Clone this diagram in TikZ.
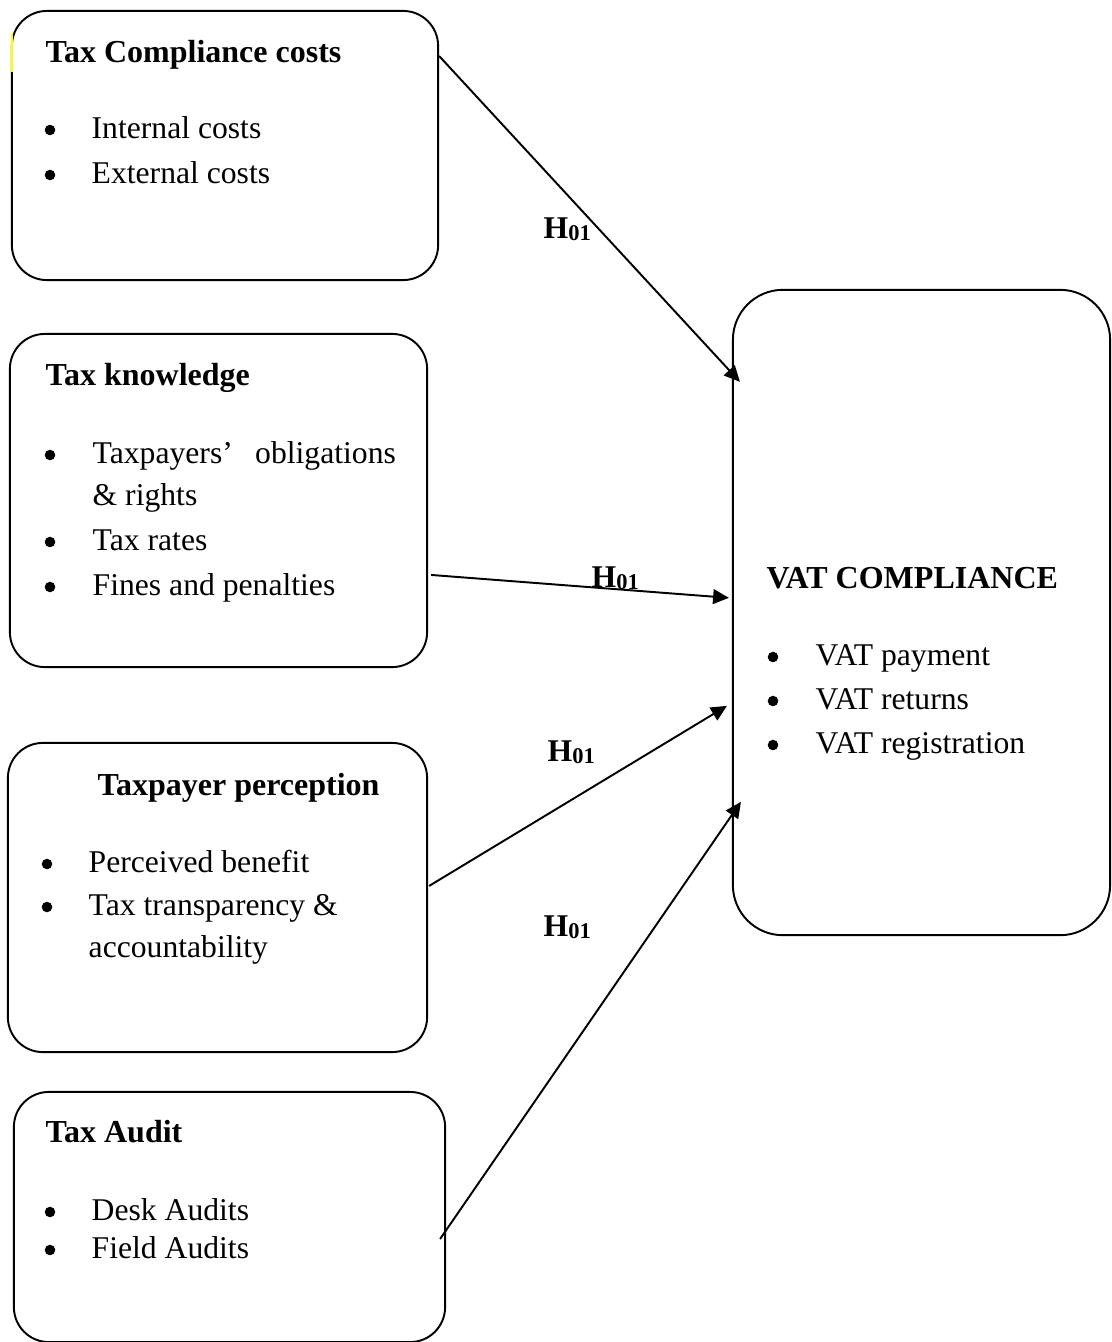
\documentclass[tikz,border=0pt]{standalone}
\usepackage{fontspec}
\setmainfont{Liberation Serif}
\usetikzlibrary{calc,arrows.meta,positioning}
\definecolor{hlyellow}{rgb}{1.0, 1.0, 0.0}

\begin{document}
\begin{tikzpicture}[x=0.01cm, y=-0.01cm, >={Triangle[length=4.5pt,width=4.2pt]}, font=\fontsize{9}{11}\selectfont]
        \tikzstyle{box}=[draw, line width=0.55pt, rounded corners=0.35cm, inner sep=0pt]
        \tikzstyle{txt}=[anchor=base west, inner sep=0pt]
        \tikzstyle{title}=[txt, font=\fontsize{9.1}{11}\selectfont\bfseries]
        \tikzstyle{dot}=[circle, fill, inner sep=0pt, minimum size=3pt]
        \tikzstyle{link}=[->, line width=0.55pt]
        \tikzstyle{hyp}=[anchor=base west, inner sep=0pt, font=\fontsize{9}{11}\selectfont\bfseries]
        \newcommand{\hnull}{H\raisebox{-0.6pt}{\fontsize{6.4}{7}\selectfont 01}}

        \useasboundingbox (0,0) rectangle (1111,1342);

        % Boxes
        \node (costs)[box, minimum width=4.26cm, minimum height=2.69cm] at (225,145.5) {};
        \node (knowledge)[box, minimum width=4.17cm, minimum height=3.33cm] at (218.5,500.5) {};
        \node (perception)[box, minimum width=4.19cm, minimum height=3.09cm] at (217.5,897.5) {};
        \node (audit)[box, minimum width=4.31cm, minimum height=2.50cm] at (229.5,1217) {};
        \node (vat)[box, rounded corners=0.5cm, minimum width=3.77cm, minimum height=6.45cm] at (921.5,612.5) {};

        % Highlight mark
        \fill[hlyellow] (11,33) rectangle (13,72);

        % Tax compliance costs
        \node (costs_t)[title] at (45,62) {Tax Compliance costs};
        \node (costs_b1)[dot] at (50,130) {};
        \node (costs_i1)[txt] at (91,138) {Internal costs};
        \node (costs_b2)[dot] at (50,175) {};
        \node (costs_i2)[txt] at (91,183) {External costs};

        % Tax knowledge
        \node (know_t)[title] at (45,385) {Tax knowledge};
        \node (know_b1)[dot] at (50,455) {};
        \node (know_i1)[txt] at (92,463) {\makebox[3.03cm][s]{Taxpayers’ obligations}};
        \node (know_i1b)[txt] at (92,505) {\& rights};
        \node (know_b2)[dot] at (50,542) {};
        \node (know_i2)[txt] at (92,550) {Tax rates};
        \node (know_b3)[dot] at (50,587) {};
        \node (know_i3)[txt] at (92,595) {Fines and penalties};

        % Taxpayer perception
        \node (perc_t)[title] at (97,795) {Taxpayer perception};
        \node (perc_b1)[dot] at (47,864) {};
        \node (perc_i1)[txt] at (88,872) {Perceived benefit};
        \node (perc_b2)[dot] at (47,907) {};
        \node (perc_i2)[txt] at (88,915) {Tax transparency \&};
        \node (perc_i2b)[txt] at (88,957) {accountability};

        % Tax audit
        \node (audit_t)[title] at (45,1142) {Tax Audit};
        \node (audit_b1)[dot] at (50,1212) {};
        \node (audit_i1)[txt] at (91,1220) {Desk Audits};
        \node (audit_b2)[dot] at (50,1250) {};
        \node (audit_i2)[txt] at (91,1258) {Field Audits};

        % VAT compliance
        \node (vat_t)[title] at (766,588) {VAT COMPLIANCE};
        \node (vat_b1)[dot] at (773,657) {};
        \node (vat_i1)[txt] at (815,665) {VAT payment};
        \node (vat_b2)[dot] at (773,701) {};
        \node (vat_i2)[txt] at (815,709) {VAT returns};
        \node (vat_b3)[dot] at (773,745) {};
        \node (vat_i3)[txt] at (815,753) {VAT registration};

        % Arrow end points
        \coordinate (costs_out) at ($(costs.north east)+(0,46)$);
        \coordinate (know_out) at ($(knowledge.north east)+(3,242)$);
        \coordinate (perc_out) at ($(perception.north east)+(1,144)$);
        \coordinate (audit_out) at ($(audit.north east)+(-6,148)$);
        \coordinate (vat_in1) at ($(vat.north west)+(8,93)$);
        \coordinate (vat_in2) at ($(vat.north west)+(-3,309)$);
        \coordinate (vat_in3) at ($(vat.north west)+(-5,417)$);
        \coordinate (vat_in4) at ($(vat.north west)+(9,513)$);

        % Hypotheses arrows
        \draw[link] (costs_out) -- (vat_in1);
        \draw[link] (know_out) -- (vat_in2);
        \draw[link] (perc_out) -- (vat_in3);
        \draw[link] (audit_out) -- (vat_in4);

        \node (h1)[hyp] at (543,238) {\hnull};
        \node (h2)[hyp] at (591,587) {\hnull};
        \node (h3)[hyp] at (547,761) {\hnull};
        \node (h4)[hyp] at (543,936) {\hnull};
    \end{tikzpicture}
\end{document}
